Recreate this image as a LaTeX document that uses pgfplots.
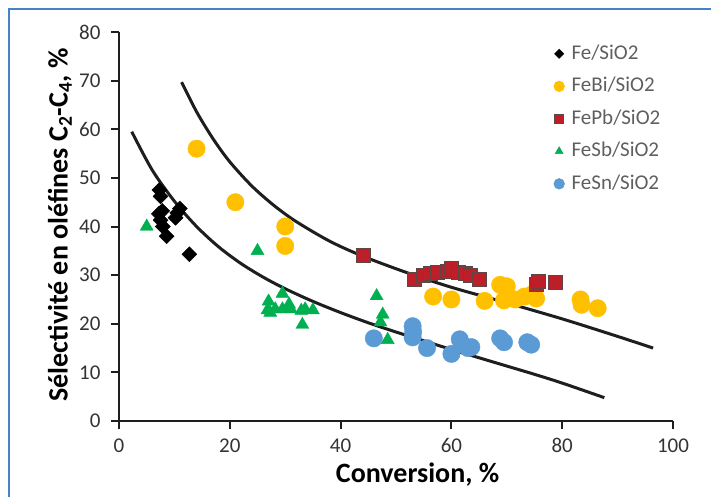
\documentclass[border=0pt]{standalone}
\usepackage{fontspec}
\setmainfont{Carlito}
\usepackage{pgfplots}
\pgfplotsset{compat=1.18}
\definecolor{frameblue}{RGB}{70,130,200}
\definecolor{bi}{RGB}{255,192,0}
\definecolor{pb}{RGB}{190,30,40}
\definecolor{pbedge}{RGB}{95,70,70}
\definecolor{sb}{RGB}{0,176,80}
\definecolor{sn}{RGB}{91,155,213}
\definecolor{axisc}{RGB}{30,30,30}
\definecolor{legtext}{RGB}{95,95,95}
\begin{document}
\begin{tikzpicture}[x=1pt,y=1pt]
\draw[frameblue, line width=2pt] (9,-600) -- (9,-9) -- (800,-9);
\begin{axis}[
  at={(119pt,-421pt)}, anchor=south west,
  scale only axis, width=554pt, height=389pt,
  xmin=0, xmax=100, ymin=0, ymax=80,
  xtick={0,20,40,60,80,100}, ytick={0,10,20,30,40,50,60,70,80},
  axis x line*=bottom, axis y line*=left,
  axis line style={axisc, line width=2.5pt},
  tick align=outside, major tick length=8pt,
  tick style={axisc, line width=2pt},
  /pgf/number format/assume math mode=true,
  ticklabel style={font=\fontsize{21}{25}\selectfont, text=black!80},
  xticklabel style={yshift=-6pt},
  yticklabel style={xshift=-7pt},
  xlabel={\textbf{Conversion, \%}},
  ylabel={\textbf{Sélectivité en oléfines C\textsubscript{2}-C\textsubscript{4}, \%}},
  xlabel style={at={(axis description cs:0.539,-0.138)}, anchor=center, font=\fontsize{28}{32}\selectfont},
  ylabel style={at={(axis description cs:-0.1065,0.504)}, anchor=center, font=\fontsize{28}{32}\selectfont},
  legend cell align=left,
  legend image code/.code={\draw[#1, every mark/.append style={scale=0.62}] plot coordinates {(0pt,0pt)};},
  legend style={draw=none, fill=none, at={(axis description cs:0.779,0.9766)}, anchor=north west,
    font=\fontsize{21}{25}\selectfont, text=legtext, row sep=11.5pt, column sep=6pt,
    nodes={inner sep=1pt, text height=15pt, text depth=4pt}},
]
\addplot[only marks, color=black, mark=square*, mark size=5.3pt, mark options={rotate=45, fill=black}] coordinates {
(7.3,47.5) (7.5,46.2) (7.2,42.6) (7.8,43.2) (7.5,41.3) (7.9,40.0) (8.6,38.0) (10.2,41.8) (10.5,42.8) (11.0,43.7) (12.7,34.3)};
\addlegendentry{Fe/SiO2}
\addplot[only marks, color=bi, mark=*, mark size=8.7pt, mark options={fill=bi}] coordinates {
(14.0,56.0) (21.0,45.0) (30.0,40.0) (30.0,36.0) (56.7,25.6) (60.0,25.0) (66.0,24.7) (68.8,28.0) (70.0,27.7) (69.5,24.8) (71.5,25.0) (73.2,25.6) (74.5,26.0) (75.3,25.2) (83.3,25.0) (83.5,23.9) (86.4,23.2)};
\addlegendentry{FeBi/SiO2}
\addplot[only marks, color=pbedge, mark=square*, mark size=7pt, mark options={fill=pb, line width=1pt}] coordinates {
(44.1,34.1) (53.3,29.0) (55.0,29.9) (56.2,30.3) (57.5,30.5) (59.3,30.8) (60.0,31.4) (61.3,30.6) (62.6,30.3) (63.5,30.0) (65.0,29.2) (75.3,28.0) (75.8,28.6) (78.8,28.4)};
\addlegendentry{FePb/SiO2}
\addplot[only marks, color=sb, mark=triangle*, mark size=7.5pt, mark options={fill=sb}] coordinates {
(5.0,40.0) (25.0,35.0) (26.8,22.8) (27.0,24.6) (27.3,22.3) (28.2,23.0) (29.5,26.2) (29.5,23.0) (30.7,24.0) (31.0,23.0) (32.9,22.7) (33.1,19.8) (33.6,23.0) (35.0,22.8) (46.5,25.7) (47.2,20.3) (47.6,21.9) (48.5,16.7)};
\addlegendentry{FeSb/SiO2}
\addplot[only marks, color=sn, mark=*, mark size=8.7pt, mark options={fill=sn}] coordinates {
(46.0,17.0) (53.0,19.5) (53.1,18.3) (53.0,17.2) (55.6,15.0) (60.0,13.8) (61.5,16.8) (62.0,15.7) (63.0,15.0) (63.6,15.2) (68.8,17.0) (69.5,16.2) (73.7,16.2) (74.4,15.7)};
\addlegendentry{FeSn/SiO2}
\addplot[forget plot, smooth, axisc, line width=3pt] coordinates {
(11.3,69.7) (14,63.6) (17,58.0) (20,53.3) (24,48.3) (28,44.3) (32,41.0) (38,37.0) (44,33.9) (52,30.5) (60,27.5) (70,24.3) (80,21.0) (90,17.4) (96.4,15.0)};
\addplot[forget plot, smooth, axisc, line width=3pt] coordinates {
(2.3,59.5) (6,51.6) (10,45.2) (14,40.0) (18,35.8) (22,32.4) (26,29.6) (30,27.2) (35,24.6) (40,22.3) (45,20.2) (50,18.3) (55,16.5) (60,14.7) (65,13.0) (70,11.3) (75,9.6) (80,7.8) (87.6,4.8)};
\end{axis}
\pgfresetboundingbox
\path[use as bounding box] (0,0) rectangle (711,-497);
\end{tikzpicture}
\end{document}
